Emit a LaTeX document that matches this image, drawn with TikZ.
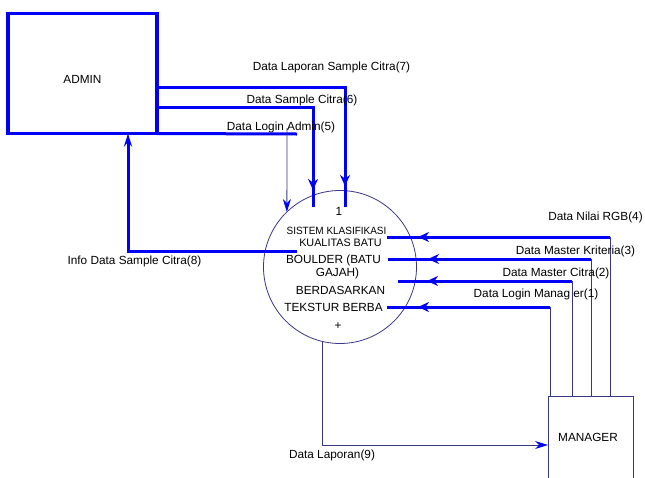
\documentclass[tikz,border=0pt]{standalone}
\usepackage{fontspec}
\setmainfont{Liberation Sans}
\usetikzlibrary{arrows.meta,decorations.markings}
\definecolor{navy}{RGB}{55,55,135}
\definecolor{flowblue}{RGB}{0,0,245}

\begin{document}
\begin{tikzpicture}[x=1pt,y=-1pt,font=\fontsize{11.8}{13}\selectfont,
  entity/.style={draw,rectangle,inner sep=0pt,outer sep=0pt},
  flow/.style={draw=flowblue,line width=3pt},
  link/.style={draw=navy,line width=0.8pt},
  tip/.style={-{Stealth[flowblue,length=13pt,width=8pt]}},
  midarrow/.style={postaction={decorate},decoration={markings,
    mark=at position #1 with {\arrow{Stealth[flowblue,length=11pt,width=10pt]}}}}]
  \useasboundingbox (0,0) rectangle (645,477);

  \node[entity,draw=flowblue,line width=3.2pt,minimum width=149pt,
    minimum height=120pt] (admin) at (82.5,73.5) {};
  \node (admintxt) at (82.5,79) {ADMIN};
  \node[entity,link,minimum width=85pt,minimum height=86pt] (manager)
    at (590.5,439) {};
  \node (managertxt) at (588,437) {MANAGER};
  \node[circle,link,minimum size=153pt,inner sep=0pt,outer sep=0pt] (proc)
    at (340,267) {};

  \node (pnum) at (339,211) {1};
  \node (pt1) at (336.5,231) {\fontsize{10.5}{12}\selectfont\scalebox{0.95}[1]{SISTEM KLASIFIKASI}};
  \node (pt2) at (340.5,243) {\fontsize{10.8}{12}\selectfont KUALITAS BATU};
  \node (pt3) at (333.5,260) {BOULDER (BATU};
  \node (pt4) at (337.5,273) {GAJAH)};
  \node (pt5) at (340.5,290) {BERDASARKAN};
  \node (pt6) at (333.5,307) {TEKSTUR BERBA};
  \node (pplus) at (338,326) {+};

  % admin side
  \coordinate (c7) at (345,207);
  \coordinate (c6) at (313,207);
  \coordinate (e5) at (297,134);
  \coordinate (s5) at (287,128);
  \coordinate (s8) at (297,251);
  \draw[flow,midarrow=-21pt] (admin.east |- 0,87) -| (c7);
  \draw[flow,midarrow=-17pt] (admin.east |- 0,107) -| (c6);
  \draw[flow] (admin.south east) -- (e5);
  \draw[link,tip] (s5) -- (proc.134);
  \draw[flow,tip] (s8) -| (admin.south -| 128,0);

  % manager side
  \coordinate (c1) at (550,307);
  \coordinate (e1) at (387,307);
  \coordinate (c2) at (572,281);
  \coordinate (e2) at (398,281);
  \coordinate (c3) at (591,259);
  \coordinate (e3) at (388,259);
  \coordinate (c4) at (610,237);
  \coordinate (e4) at (387,237);
  \draw[link] (manager.north -| c1) -- (c1);
  \draw[link] (manager.north -| c2) -- (c2);
  \draw[link] (manager.north -| c3) -- (c3);
  \draw[link] (manager.north -| c4) -- (c4);
  \draw[flow,midarrow=-31pt] (c1) -- (e1);
  \draw[flow,midarrow=-29pt] (c2) -- (e2);
  \draw[flow,midarrow=-40pt] (c3) -- (e3);
  \draw[flow,midarrow=-31pt] (c4) -- (e4);
  \draw[link,tip] (proc.257) |- (manager.west |- 0,445);

  \node (l7) at (331.5,67) {Data Laporan Sample Citra(7)};
  \node (l6) at (302,100) {Data Sample Citra(6)};
  \node (l5) at (281,127) {Data Login Admin(5)};
  \node (l4) at (595.5,217) {Data Nilai RGB(4)};
  \node (l3) at (575.5,251) {Data Master Kriteria(3)};
  \node (l2) at (556,273) {Data Master Citra(2)};
  \node (l1) at (536,294) {Data Login Manag er(1)};
  \node (l8) at (134.5,261) {Info Data Sample Citra(8)};
  \node (l9) at (332,455) {Data Laporan(9)};
\end{tikzpicture}
\end{document}
